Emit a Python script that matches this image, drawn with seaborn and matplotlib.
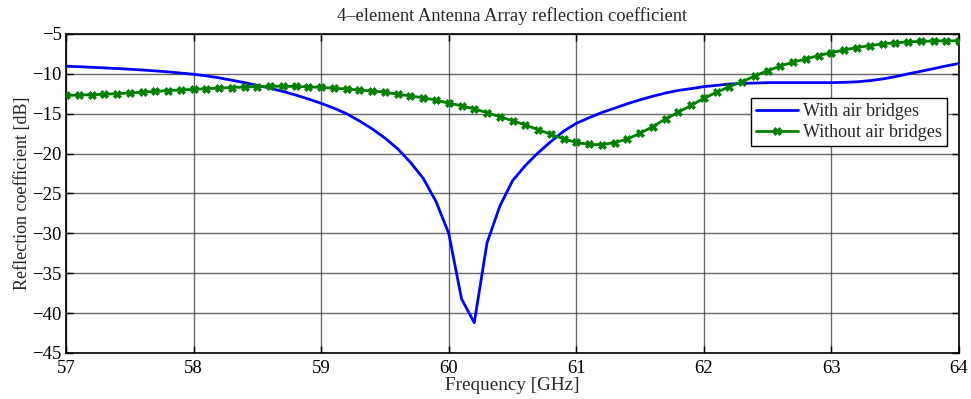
import numpy as np
import pandas as pd
import matplotlib
matplotlib.use("Agg")
import matplotlib.pyplot as plt
import seaborn as sns

# Frequency sweep (GHz), 0.1 GHz steps
freq = [round(57.0 + 0.1 * i, 1) for i in range(71)]

# Reflection coefficient with air bridges [dB]
with_bridges = [
    -9.05, -9.10, -9.18, -9.25, -9.33, -9.42, -9.52, -9.63, -9.75, -9.90,
    -10.05, -10.25, -10.50, -10.80, -11.10, -11.45, -11.80, -12.20, -12.65, -13.15,
    -13.70, -14.30, -15.00, -15.90, -16.90, -18.05, -19.40, -21.10, -23.10, -26.00,
    -30.00, -38.20, -41.20, -31.20, -26.60, -23.40, -21.50, -19.90, -18.50, -17.20,
    -16.20, -15.50, -14.85, -14.30, -13.75, -13.25, -12.80, -12.40, -12.07, -11.85,
    -11.60, -11.44, -11.27, -11.20, -11.15, -11.10, -11.10, -11.10, -11.10, -11.10,
    -11.10, -11.06, -11.00, -10.85, -10.64, -10.35, -10.00, -9.68, -9.35, -9.00,
    -8.70,
]

# Reflection coefficient without air bridges [dB]
without_bridges = [
    -12.70, -12.66, -12.62, -12.56, -12.48, -12.40, -12.30, -12.20, -12.10, -12.02,
    -11.94, -11.86, -11.78, -11.71, -11.65, -11.60, -11.56, -11.55, -11.58, -11.63,
    -11.70, -11.80, -11.90, -12.02, -12.15, -12.30, -12.55, -12.77, -13.00, -13.30,
    -13.67, -14.00, -14.40, -14.86, -15.37, -15.87, -16.40, -17.00, -17.58, -18.15,
    -18.60, -18.85, -18.88, -18.62, -18.17, -17.45, -16.60, -15.65, -14.80, -13.95,
    -13.07, -12.30, -11.60, -10.98, -10.25, -9.60, -9.02, -8.52, -8.13, -7.70,
    -7.34, -7.00, -6.70, -6.46, -6.25, -6.10, -6.00, -5.93, -5.88, -5.86,
    -5.85,
]

x_ticks = [57, 58, 59, 60, 61, 62, 63, 64]
y_ticks = [-45, -40, -35, -30, -25, -20, -15, -10, -5]

df_with = pd.DataFrame({"freq": freq, "db": with_bridges})
df_without = pd.DataFrame({"freq": freq, "db": without_bridges})

sns.set_style("ticks")
plt.rcParams["font.family"] = ["Liberation Serif", "DejaVu Serif"]
plt.rcParams["axes.unicode_minus"] = True

fig = plt.figure(figsize=(9.71, 3.99), dpi=100)
ax = fig.add_axes([0.068, 0.1153, 0.9197, 0.7995])

sns.lineplot(data=df_with, x="freq", y="db", ax=ax, color="#0000ff",
             linewidth=2.0, label="With air bridges", zorder=3)
sns.lineplot(data=df_without, x="freq", y="db", ax=ax, color="#008000",
             linewidth=2.0, marker="X", markersize=5.5, markeredgewidth=0.5,
             markeredgecolor="#008000", label="Without air bridges", zorder=3)

ax.set_xlim(57, 64)
ax.set_ylim(-45, -5)
ax.set_xticks(x_ticks)
ax.set_yticks(y_ticks)
ax.set_xticklabels([str(v) for v in x_ticks])
ax.set_yticklabels([str(v).replace("-", "\u2212") for v in y_ticks])

ax.grid(True, color="#444444", linewidth=1.0, linestyle="-", alpha=0.8)
ax.set_axisbelow(True)
for s in ax.spines.values():
    s.set_color("black")
    s.set_linewidth(1.2)
    s.set_visible(True)
ax.tick_params(direction="in", length=5, width=1, top=True, right=True,
               labelsize=13.5, colors="black")
ax.tick_params(axis="y", pad=3)
ax.tick_params(axis="x", pad=5)

ax.set_title("4\u2013element Antenna Array reflection coefficient",
             fontsize=13.3, pad=9)
ax.set_xlabel("Frequency [GHz]", fontsize=13.8, labelpad=0)
ax.set_ylabel("Reflection coefficient [dB]", fontsize=13, labelpad=1)

leg = ax.legend(loc="upper right", bbox_to_anchor=(0.987, 0.80),
                borderaxespad=0, fontsize=13, frameon=True, fancybox=False,
                framealpha=1, edgecolor="black", handlelength=2.3,
                handletextpad=0.3, borderpad=0.3, labelspacing=0.2)
leg.get_frame().set_linewidth(1.0)

fig.savefig("out.png", dpi=100)
